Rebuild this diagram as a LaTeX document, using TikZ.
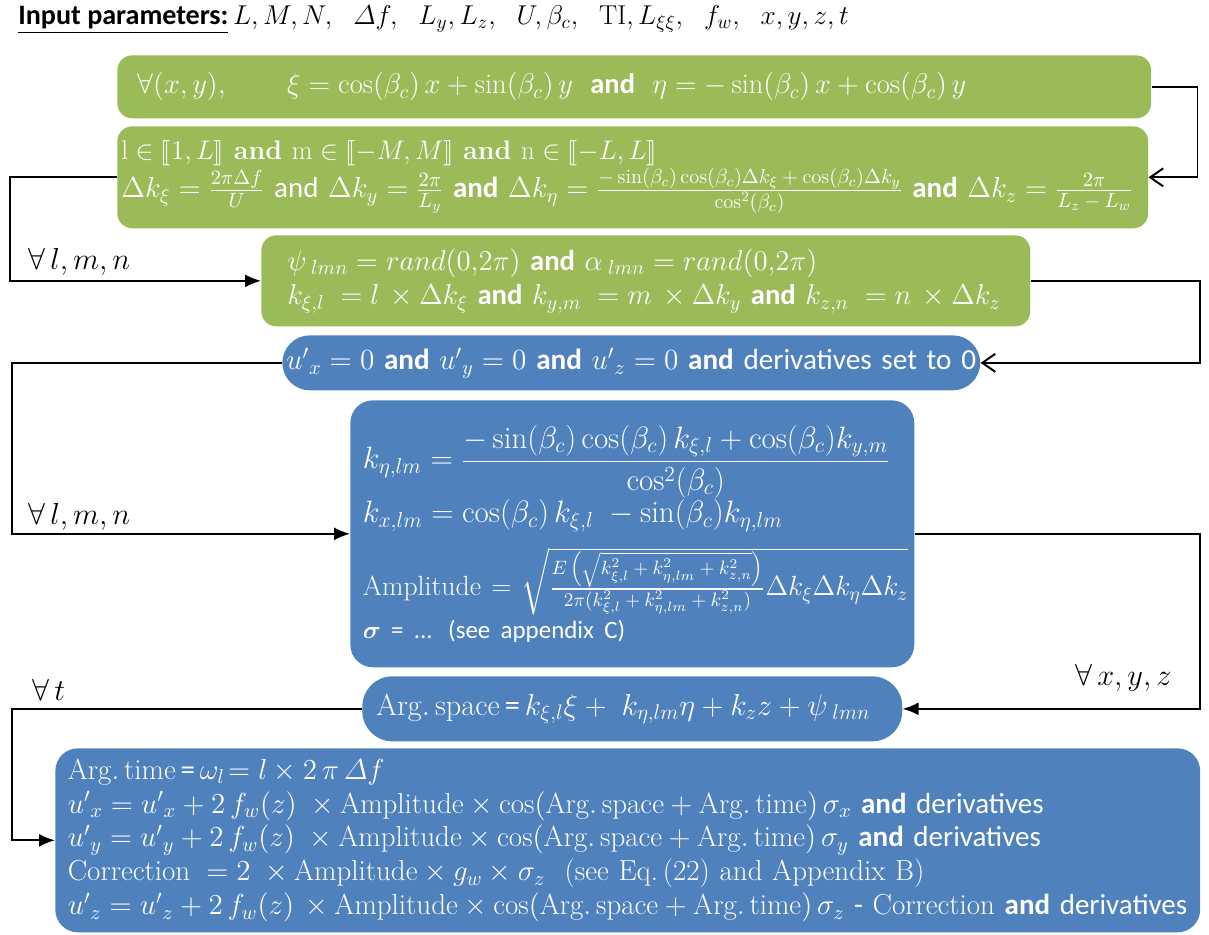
\RequirePackage{fix-cm}
\documentclass[tikz,border=0pt]{standalone}
\usepackage{amsmath,amssymb}
\usepackage{stmaryrd}
\usepackage{fontspec}
\setsansfont{Carlito}
\usetikzlibrary{arrows.meta,positioning}
\definecolor{olivebox}{HTML}{9BBB59}
\definecolor{steelbox}{HTML}{4F81BD}
\newcommand{\andb}{\textsf{\bfseries and}}
\newcommand{\argsp}{\mathrm{Arg.\,space}}
\newcommand{\argtm}{\mathrm{Arg.\,time}}
\newcommand{\fs}[1]{\fontsize{#1}{1.2\dimexpr#1pt\relax}\selectfont}
\newcommand{\mfrac}[3][12]{{\textstyle\frac{\text{\fs{#1}$#2$}}{\text{\fs{#1}$#3$}}}}

\begin{document}
\begin{tikzpicture}[
    x=0.02cm, y=-0.02cm,
    every node/.style={font=\fs{17}},
    greenbox/.style={fill=olivebox, text=white, rounded corners=0.3cm, align=left, anchor=north west, inner ysep=2pt},
    bluebox/.style={fill=steelbox, text=white, rounded corners=0.45cm, align=left, anchor=north west, inner ysep=2pt},
    flow/.style={-{Latex[length=3.2mm,width=2.6mm]}, line width=1.1pt},
    flowopen/.style={-{Straight Barb[length=2.6mm,width=3.6mm]}, line width=1.1pt},
    loop/.style={inner sep=0pt, font=\fs{17.3}}
]
\useasboundingbox (0,0) rectangle (1209,935);
\node[anchor=west, inner sep=0pt, font=\fs{16}] (params) at (18,20) {\underline{\textsf{\bfseries Input parameters:}}\,{\fs{15.5}$L,M,N,\ \ \varDelta f,\ \ L_y,L_z,\ \ U,\beta_c,\ \ \mathrm{TI},L_{\xi\xi},\ \ f_w,\ \ x,y,z,t$}};
\node[greenbox, minimum width=20.68cm, minimum height=1.26cm, text width=19.88cm, inner xsep=0.4cm, font=\fs{16.2}] (rotate) at (117,55)
    {\mbox{$\forall(x,y),\qquad \xi=\cos(\beta_c)\,x+\sin(\beta_c)\,y$\; \andb\; $\eta=-\sin(\beta_c)\,x+\cos(\beta_c)\,y$}};
\node[greenbox, minimum width=20.62cm, minimum height=2.04cm, text width=20.46cm, inner xsep=0.08cm, font=\fs{16.5}] (steps) at (117,126)
    {\mbox{\fs{15.3}$\mathrm{l}\in\llbracket 1,L\rrbracket$ \textbf{and} $\mathrm{m}\in\llbracket -M,M\rrbracket$ \textbf{and} $\mathrm{n}\in\llbracket -L,L\rrbracket$}\\
     \mbox{$\Delta k_\xi=\mfrac[11.6]{2\pi\Delta f}{U}$ \textsf{and} $\Delta k_y=\mfrac[11.6]{2\pi}{L_y}$ \andb\ $\Delta k_\eta=\mfrac[11.6]{-\sin(\beta_c)\cos(\beta_c)\Delta k_\xi+\cos(\beta_c)\Delta k_y}{\cos^2(\beta_c)}$ \andb\ $\Delta k_z=\mfrac[11.6]{2\pi}{L_z-L_w}$}};
\node[greenbox, minimum width=15.38cm, minimum height=1.82cm, text width=14.34cm, inner xsep=0.52cm, font=\fs{16.35}] (phases) at (261,235)
    {\mbox{$\psi_{\;lmn}=rand(0{,}2\pi)$ \andb\ $\alpha_{\;lmn}=rand(0{,}2\pi)$}\\
     \mbox{$k_{\xi,l}\;=l\,\times\Delta k_\xi$ \andb\ $k_{y,m}\;=m\,\times\Delta k_y$ \andb\ $k_{z,n}\;=n\,\times\Delta k_z$}};
\node[bluebox, rounded corners=0.55cm, minimum width=13.96cm, minimum height=1.1cm, text width=13.8cm, inner xsep=0.08cm, font=\fs{16.6}] (reset) at (282,335)
    {\mbox{${u'}_x=0$ \andb\ ${u'}_y=0$ \andb\ ${u'}_z=0$ \andb\ \textsf{derivatives set to 0}}};
\node[bluebox, minimum width=11.28cm, minimum height=5.34cm, text width=10.78cm, inner xsep=0.25cm, font=\fs{17.6}] (amp) at (350,400)
    {\mbox{$k_{\eta,lm}=\dfrac{-\sin(\beta_c)\cos(\beta_c)\,k_{\xi,l}+\cos(\beta_c)k_{y,m}}{\cos^2(\beta_c)}$}\\[0pt]
     \mbox{$k_{x,lm}=\cos(\beta_c)\,k_{\xi,l}\;-\sin(\beta_c)k_{\eta,lm}$}\\[8pt]
     \mbox{\fs{15.8}Amplitude = $\sqrt{\mfrac[11]{E\left(\sqrt{k_{\xi,l}^2+k_{\eta,lm}^2+k_{z,n}^2}\right)}{2\pi(k_{\xi,l}^2+k_{\eta,lm}^2+k_{z,n}^2)}\Delta k_\xi\Delta k_\eta\Delta k_z}$}\\[2pt]
     \mbox{\fs{14.2}\textsf{$\boldsymbol{\sigma}$ = ... (see appendix C)}}};
\node[bluebox, rounded corners=0.6cm, minimum width=10.8cm, minimum height=1.3cm, text width=10.24cm, inner xsep=0.28cm, font=\fs{17.2}] (space) at (362,676)
    {\mbox{$\argsp\,\textsf{=}\,k_{\xi,l}\xi+\;k_{\eta,lm}\eta+k_z z+\psi_{\;lmn}$}};
\node[bluebox, minimum width=22.9cm, minimum height=3.68cm, text width=22.4cm, inner xsep=0.25cm, font=\fontsize{16.5}{19.3}\selectfont] (velocity) at (55,748)
    {$\argtm\,\textsf{=}\,\omega_l\!=l\times 2\,\pi\,\varDelta f$\\
     \mbox{${u'}_x={u'}_x+2\,f_w(z)\;\times\mathrm{Amplitude}\times\cos(\argsp+\argtm)\,\sigma_x$ \andb\ \textsf{derivatives}}\\
     \mbox{${u'}_y={u'}_y+2\,f_w(z)\;\times\mathrm{Amplitude}\times\cos(\argsp+\argtm)\,\sigma_y$ \andb\ \textsf{derivatives}}\\
     \mbox{$\mathrm{Correction}\;=2\;\times\mathrm{Amplitude}\times g_w\times\sigma_z$\ \ (see Eq.\,(22) and Appendix B)}\\
     \mbox{${u'}_z={u'}_z+2\,f_w(z)\,\times\mathrm{Amplitude}\times\cos(\argsp+\argtm)\,\sigma_z$ \textsf{-} Correction \andb\ \textsf{derivatives}}};
% loop labels
\node[loop, anchor=west] (lmnA) at (28,262) {$\forall\, l,m,n$};
\node[loop, anchor=west] (lmnB) at (28,517) {$\forall\, l,m,n$};
\node[loop, anchor=east] (xyz) at (1172,678) {$\forall\, x,y,z$};
\node[loop, anchor=west] (tloop) at (32,690) {$\forall\, t$};
% connectors
\draw[flowopen] (rotate.east) -- ++(46,0) |- (steps.east);
\draw[flow] (steps.west) -- ++(-107,0) |- (phases.west);
\draw[flowopen] (phases.east) -- ++(169,0) |- (reset.east);
\draw[flow] (reset.west) -- ++(-270,0) |- (amp.west);
\draw[flow] (amp.east) -- ++(285,0) |- (space.east);
\draw[flow] (space.west) -- ++(-350,0) |- (velocity.west);
\end{tikzpicture}
\end{document}
